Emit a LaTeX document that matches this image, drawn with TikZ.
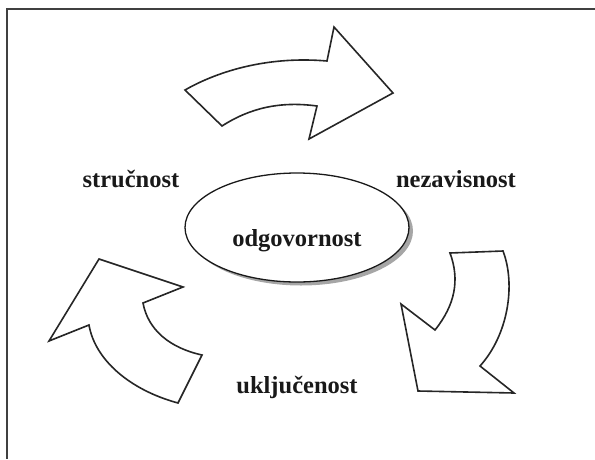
\documentclass[tikz,border=0pt]{standalone}
\usepackage{fontspec}
\setmainfont{Liberation Serif}
\begin{document}
\begin{tikzpicture}[x=1pt,y=-1pt,
  bigarrow/.style={draw=black!85,line width=1.6pt,fill=white,line join=miter},
  label/.style={font=\fontsize{24.5}{28}\selectfont\bfseries,text=black!90,inner sep=0pt}]
\useasboundingbox (0,0) rectangle (595,459);
% frame (top and left edges)
\draw[black!75,line width=2pt] (595,9) -- (7,9) -- (7,459);

% upper curved arrow
\draw[bigarrow] (185,90) .. controls (220,70) and (270,56) .. (327,61)
  -- (334,27) -- (393,93) -- (309,139) -- (317,106)
  .. controls (280,101) and (250,108) .. (222,126) -- cycle;

% right curved arrow
\draw[bigarrow] (450,253) -- (503,251)
  .. controls (516,285) and (508,335) .. (480,366)
  -- (514,393) -- (418,391) -- (401,304) -- (435,330)
  .. controls (455,305) and (460,280) .. cycle;

% left curved arrow
\draw[bigarrow] (99,259) -- (183,287) -- (143,303)
  .. controls (148,330) and (170,348) .. (202,355)
  -- (178,403)
  .. controls (130,390) and (95,360) .. (89,325)
  -- (49,341) -- cycle;

% central ellipse with shadow
\fill[black!35] (301,231) ellipse [x radius=112, y radius=54.5];
\draw[black!90,line width=1.3pt,fill=white] (297,227.5) ellipse [x radius=112, y radius=54.5];

\node[label] (center) at (297,241) {odgovornost};
\node[label] (strucnost) at (131,179) {stručnost};
\node[label] (nezavisnost) at (456,179) {nezavisnost};
\node[label] (ukljucenost) at (297,387) {uključenost};
\end{tikzpicture}
\end{document}
